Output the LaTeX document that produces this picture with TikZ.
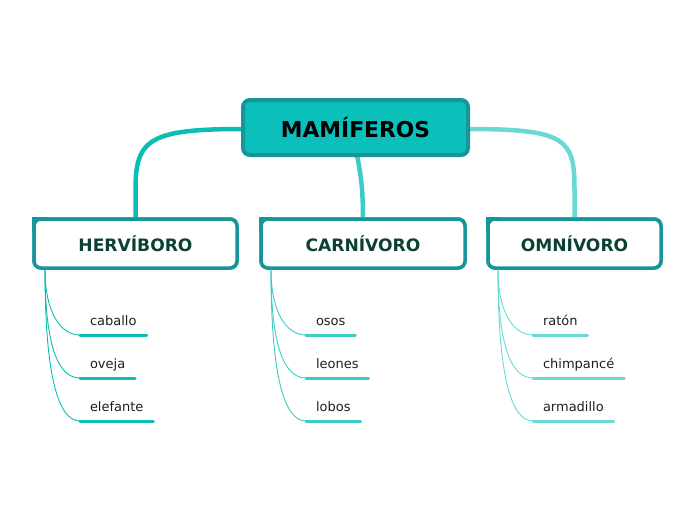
\documentclass[tikz,border=0pt]{standalone}
\usepackage{fontspec}
\setmainfont{DejaVu Sans}
\definecolor{rootfill}{HTML}{0BBFBA}
\definecolor{bordc}{HTML}{16969B}
\definecolor{cleft}{HTML}{0ABDB6}
\definecolor{cmid}{HTML}{3CCBC6}
\definecolor{cright}{HTML}{6AD9D6}
\definecolor{kidtext}{HTML}{0C4034}
\definecolor{leaftext}{HTML}{1E1E1E}
\tikzset{
  rootbox/.style={draw=bordc, fill=rootfill, line width=4pt, rounded corners=7pt, outer sep=0pt,
    minimum width=225pt, minimum height=55pt, font=\fontsize{21.8}{26}\selectfont\bfseries, text=black},
  kidbox/.style={draw=bordc, fill=white, line width=3.5pt, rounded corners=7pt, outer sep=0pt,
    minimum height=49pt, font=\fontsize{17.1}{20}\selectfont\bfseries, text=kidtext},
  sharpc/.style={draw=bordc, line width=3.5pt, line join=miter, line cap=butt},
  mainlink/.style={line width=4.5pt},
  leaf/.style={anchor=south west, inner xsep=10pt, inner ysep=7pt, text height=9pt, text depth=3pt,
    font=\fontsize{13}{15}\selectfont, text=leaftext, outer sep=0pt},
  uline/.style={line width=3pt, line cap=round},
  twig/.style={line width=0.9pt},
}
\begin{document}
\begin{tikzpicture}[x=1pt,y=-1pt]
\useasboundingbox (0,0) rectangle (697,520);
\coordinate (rl) at (243,129);
\coordinate (rr) at (468,129);
\coordinate (rb) at (356,150);
\node[kidbox, minimum width=203pt] (h) at (135.5,243.5) {HERVÍBORO};
\node[kidbox, minimum width=204pt] (c) at (363,243.5) {CARNÍVORO};
\node[kidbox, minimum width=173pt] (o) at (574.5,243.5) {OMNÍVORO};
\draw[mainlink, cleft] (rl) .. controls (150,129) and ([yshift=80pt]h.north) .. ([yshift=30pt]h.north) -- (h.north);
\draw[mainlink, cright] (rr) .. controls (566,129) and ([yshift=80pt]o.north) .. ([yshift=30pt]o.north) -- (o.north);
\draw[mainlink, cmid] (rb) .. controls (361,175) and ([yshift=30pt]c.north) .. (c.north);
\node[rootbox] (r) at (355.5,127.5) {MAMÍFEROS};
\node[kidbox, minimum width=203pt] at (h) {HERVÍBORO};
\node[kidbox, minimum width=204pt] at (c) {CARNÍVORO};
\node[kidbox, minimum width=173pt] at (o) {OMNÍVORO};
\draw[sharpc] ([yshift=-12pt]h.north west) -- (h.north west) -- ([xshift=12pt]h.north west);
\draw[sharpc] ([yshift=-12pt]c.north west) -- (c.north west) -- ([xshift=12pt]c.north west);
\draw[sharpc] ([yshift=-12pt]o.north west) -- (o.north west) -- ([xshift=12pt]o.north west);
\coordinate (hs) at ([xshift=11pt,yshift=-1.5pt]h.south west);
\coordinate (cs) at ([xshift=10pt,yshift=-1.5pt]c.south west);
\coordinate (os) at ([xshift=10pt,yshift=-1.5pt]o.south west);
\node[leaf] (h1) at (80,335) {caballo};
\node[leaf] (h2) at (80,378) {oveja};
\node[leaf] (h3) at (80,421) {elefante};
\node[leaf] (c1) at (306,335) {osos};
\node[leaf] (c2) at (306,378) {leones};
\node[leaf] (c3) at (306,421) {lobos};
\node[leaf] (o1) at (533,335) {ratón};
\node[leaf] (o2) at (533,378) {chimpancé};
\node[leaf] (o3) at (533,421) {armadillo};
\foreach \s/\a/\b/\cc/\col in {hs/h1/h2/h3/cleft, cs/c1/c2/c3/cmid, os/o1/o2/o3/cright}{
  \draw[twig, \col] (\s) .. controls +(0,42) and +(-20,0) .. (\a.south west);
  \draw[twig, \col] (\s) .. controls +(0,76) and +(-22,0) .. (\b.south west);
  \draw[twig, \col] (\s) .. controls +(0,106) and +(-22,0) .. (\cc.south west);
  \draw[uline, \col] (\a.south west) -- (\a.south east);
  \draw[uline, \col] (\b.south west) -- (\b.south east);
  \draw[uline, \col] (\cc.south west) -- (\cc.south east);
}
\end{tikzpicture}
\end{document}
